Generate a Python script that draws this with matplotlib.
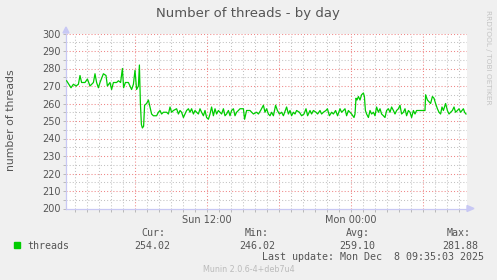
import matplotlib
matplotlib.use('Agg')
import matplotlib.pyplot as plt
from matplotlib.patches import Polygon, Rectangle

# ---- data: minutes since Sun 00:00, number of threads ----
minutes = [18, 40, 52, 65, 77, 85, 93, 110, 122, 135, 152, 160, 168, 177, 185, 202, 215, 222,
           235, 243, 252, 268, 277, 288, 297, 303, 312, 327, 335, 343, 352, 360, 368, 377, 382,
           387, 392, 397, 403, 408, 418, 427, 435, 443, 452, 468, 477, 485, 493, 502, 518, 527,
           535, 543, 552, 568, 577, 585, 593, 602, 610, 618, 627, 635, 643, 652, 660, 668, 677,
           685, 693, 702, 710, 718, 727, 735, 743, 752, 760, 768, 777, 785, 793, 802, 810, 818,
           827, 835, 843, 852, 860, 868, 877, 885, 902, 908, 918, 935, 952, 968, 977, 988, 1002,
           1010, 1018, 1027, 1035, 1043, 1052, 1063, 1072, 1082, 1093, 1102, 1118, 1127, 1135,
           1143, 1152, 1160, 1168, 1182, 1193, 1205, 1215, 1223, 1235, 1243, 1252, 1265, 1273,
           1285, 1293, 1302, 1315, 1322, 1332, 1343, 1352, 1363, 1373, 1385, 1393, 1402, 1410,
           1418, 1427, 1435, 1443, 1455, 1460, 1465, 1470, 1477, 1485, 1493, 1502, 1507, 1512,
           1518, 1527, 1535, 1543, 1552, 1560, 1568, 1577, 1585, 1593, 1602, 1610, 1618, 1627,
           1635, 1643, 1652, 1660, 1668, 1677, 1685, 1693, 1702, 1710, 1718, 1727, 1735, 1743,
           1752, 1760, 1768, 1785, 1802, 1810, 1813, 1822, 1830, 1838, 1847, 1855, 1863, 1872,
           1880, 1888, 1895, 1902, 1913, 1922, 1930, 1938, 1947, 1955, 1963, 1972, 1980, 1988,
           1995, 2002, 2008, 2015]
threads = [273, 269, 271, 270, 271, 276, 272, 272, 274, 270, 272, 277, 272, 269, 272, 277, 276, 270,
           272, 268, 272, 272, 273, 272, 280, 269, 272, 272, 270, 268, 271, 279, 268, 270, 282,
           260, 248, 246, 247, 259, 260, 262, 258, 254, 253, 253, 255, 256, 254, 255, 255, 254,
           258, 255, 256, 257, 254, 256, 255, 252, 254, 256, 257, 255, 257, 254, 256, 255, 254,
           257, 255, 253, 256, 252, 251, 254, 258, 253, 257, 254, 256, 255, 254, 257, 253, 254,
           256, 253, 256, 257, 253, 255, 256, 257, 257, 251, 256, 256, 254, 255, 254, 256, 259,
           255, 257, 254, 253, 255, 253, 259, 256, 254, 255, 253, 258, 254, 256,
           253, 255, 254, 256, 255, 253, 254, 257, 253, 256, 254, 256, 255, 254,
           256, 254, 255, 256, 257, 253, 255, 254, 256, 253, 257, 255, 256, 257,
           253, 256, 255, 254, 252, 254, 263, 262, 264, 262, 265, 266, 264, 256,
           254, 252, 256, 254, 255, 253, 258, 255, 257, 254, 253, 252, 256, 257,
           255, 258, 256, 254, 256, 257, 259, 254, 255, 257, 253, 256, 255, 252,
           256, 254, 256, 256, 256, 256, 265, 262, 261, 260, 264, 263, 260, 257,
           255, 254, 258, 256, 260, 256, 254, 255, 256, 258, 255, 256, 257, 255,
           256, 257, 255, 254]

x_tick_pos = [720, 1440]
x_tick_labels = ['Sun 12:00', 'Mon 00:00']
y_ticks = list(range(200, 301, 10))

legend_name = 'threads'
stat_names = ['Cur:', 'Min:', 'Avg:', 'Max:']
stat_values = ['254.02', '246.02', '259.10', '281.88']

W, H = 497, 280
def fx(x): return x / W
def fy(y): return 1 - y / H

TXT = '#555555'
fig = plt.figure(figsize=(W / 100, H / 100), dpi=100, facecolor='#f0f0f0')
ax = fig.add_axes([fx(66), fy(208.5), 401 / W, 175 / H])
ax.set_facecolor('white')
ax.set_xlim(15, 2020)
ax.set_ylim(200, 300)

dot = (0, (1, 2))
GREY = '#c2c2c2'
RED = '#ef8686'
# grid
for v in range(205, 300, 10):
    ax.axhline(v, color=GREY, lw=0.75, ls=dot, zorder=1)
for v in range(210, 301, 10):
    ax.axhline(v, color=RED, lw=0.75, ls=dot, zorder=1)
for m in range(60, 2020, 60):
    if m % 360 == 0:
        ax.axvline(m, color=RED, lw=0.75, ls=dot, zorder=1.5)
    else:
        ax.axvline(m, color=GREY, lw=0.75, ls=dot, zorder=1)

ax.plot(minutes, threads, color='#00cc00', lw=0.9, zorder=3)

for s in ['top', 'right']:
    ax.spines[s].set_visible(False)
for s in ['left', 'bottom']:
    ax.spines[s].set_color('#c8c8f4')
    ax.spines[s].set_linewidth(0.9)

ax.set_yticks(y_ticks)
ax.set_yticklabels([str(v) for v in y_ticks])
ax.set_yticks(list(range(205, 300, 10)), minor=True)
ax.set_xticks(x_tick_pos)
ax.set_xticklabels(x_tick_labels)
ax.set_xticks([m for m in range(60, 2020, 60) if m not in x_tick_pos], minor=True)
ax.tick_params(axis='both', which='both', length=2, width=0.6, color='#b0b0b0',
               labelcolor=TXT, labelsize=7, pad=2)
ax.tick_params(axis='x', which='major', pad=3)

# axis arrows
fig.patches.append(Polygon([[fx(63), fy(33)], [fx(69), fy(33)], [fx(66), fy(27)]],
                           closed=True, transform=fig.transFigure, color='#c8c8f4'))
fig.patches.append(Polygon([[fx(467), fy(205.5)], [fx(467), fy(211.5)], [fx(474), fy(208.5)]],
                           closed=True, transform=fig.transFigure, color='#c8c8f4'))

# texts
fig.text(fx(248), fy(13), 'Number of threads - by day', ha='center', va='center',
         fontsize=9.5, color=TXT)
fig.text(fx(11), fy(120), 'number of threads', rotation=90, ha='center', va='center',
         fontsize=7.8, color=TXT)
fig.text(fx(488), fy(57), 'RRDTOOL / TOBI OETIKER', rotation=270, ha='center', va='center',
         fontsize=5.3, color='#c4c4c4')

mono = 'DejaVu Sans Mono'
fig.patches.append(Rectangle((fx(14), fy(248.3)), 6 / W, 6.5 / H, transform=fig.transFigure,
                             color='#00cc00'))
fig.text(fx(27), fy(245.7), legend_name, ha='left', va='center', fontsize=7.2,
         family=mono, color=TXT)
for name, nx, val, vx in zip(stat_names, [141, 245, 346, 447], stat_values, [134, 239, 339, 442]):
    fig.text(fx(nx), fy(233), name, ha='left', va='center', fontsize=7.2, family=mono, color=TXT)
    fig.text(fx(vx), fy(245.7), val, ha='left', va='center', fontsize=7.2, family=mono, color=TXT)
fig.text(fx(261.7), fy(257.3), 'Last update: Mon Dec  8 09:35:03 2025', ha='left', va='center',
         fontsize=7.2, family=mono, color=TXT)
fig.text(fx(249), fy(269), 'Munin 2.0.6-4+deb7u4', ha='center', va='center', fontsize=5.8,
         color='#bbbbbb')

fig.savefig('out.png', dpi=100, facecolor=fig.get_facecolor())
